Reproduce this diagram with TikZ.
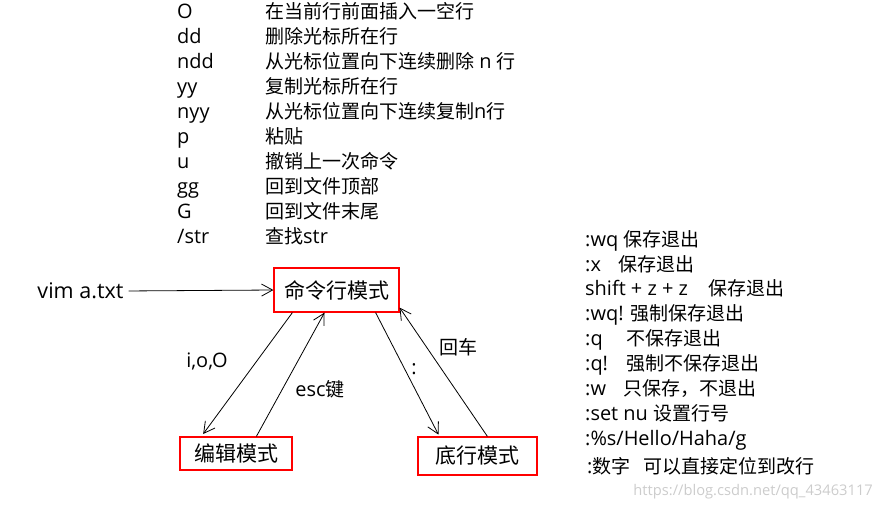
\documentclass[tikz,border=0pt]{standalone}
\usepackage{fontspec}
\setmainfont{Open Sans}[Scale=1.05]
\newfontfamily\cjk{Noto Sans CJK SC}
\usetikzlibrary{arrows.meta}

\begin{document}
\begin{tikzpicture}[x=1pt, y=-1pt,
    mode/.style={rectangle, draw=red, line width=1.2pt, inner sep=0pt, font=\fontsize{21}{25}\selectfont\cjk},
    key/.style={anchor=west, inner sep=0pt, yshift=-3pt, text height=0.8em, text depth=0.2em, font=\fontsize{19}{23}\selectfont},
    lbl/.style={inner sep=0pt, font=\fontsize{19}{23}\selectfont},
    arrow/.style={->, >={Straight Barb[length=11pt,width=12pt]}, line width=0.8pt}
]
    \useasboundingbox (0,0) rectangle (881,509);

    % Normal mode commands (top list)
    \node[key] (k1) at (177,12) {O};
    \node[key] (d1) at (265,12) {\cjk 在当前行前面插入一空行};
    \node[key] (k2) at (177,37) {dd};
    \node[key] (d2) at (265,37) {\cjk 删除光标所在行};
    \node[key] (k3) at (177,62) {ndd};
    \node[key] (d3) at (265,62) {{\cjk 从光标位置向下连续删除} n {\cjk 行}};
    \node[key] (k4) at (177,87) {yy};
    \node[key] (d4) at (265,87) {\cjk 复制光标所在行};
    \node[key] (k5) at (177,112) {nyy};
    \node[key] (d5) at (265,112) {{\cjk 从光标位置向下连续复制}n{\cjk 行}};
    \node[key] (k6) at (177,137) {p};
    \node[key] (d6) at (265,137) {\cjk 粘贴};
    \node[key] (k7) at (177,162) {u};
    \node[key] (d7) at (265,162) {\cjk 撤销上一次命令};
    \node[key] (k8) at (177,187) {gg};
    \node[key] (d8) at (265,187) {\cjk 回到文件顶部};
    \node[key] (k9) at (177,212) {G};
    \node[key] (d9) at (265,212) {\cjk 回到文件末尾};
    \node[key] (k10) at (177,237) {/str};
    \node[key] (d10) at (265,237) {{\cjk 查找}str};

    % Last line mode commands (right list)
    \node[key] (e1) at (585,240) {:wq};
    \node[key] (f1) at (623,240) {\cjk 保存退出};
    \node[key] (e2) at (585,265) {:x};
    \node[key] (f2) at (618,265) {\cjk 保存退出};
    \node[key] (e3) at (585,289) {shift + z + z};
    \node[key] (f3) at (708,289) {\cjk 保存退出};
    \node[key] (e4) at (585,314) {:wq!};
    \node[key] (f4) at (630,314) {\cjk 强制保存退出};
    \node[key] (e5) at (585,339) {:q};
    \node[key] (f5) at (626,339) {\cjk 不保存退出};
    \node[key] (e6) at (585,364) {:q!};
    \node[key] (f6) at (626,364) {\cjk 强制不保存退出};
    \node[key] (e7) at (585,389) {:w};
    \node[key] (f7) at (623,389) {\cjk 只保存，不退出};
    \node[key] (e8) at (585,414) {:set nu};
    \node[key] (f8) at (653,414) {\cjk 设置行号};
    \node[key] (e9) at (585,439) {:\%s/Hello/Haha/g};
    \node[key] (e10) at (587,467) {:{\cjk 数字}};
    \node[key] (f10) at (643,467) {\cjk 可以直接定位到改行};

    % Modes
    \node[mode, minimum width=125pt, minimum height=44pt] (cmd) at (336.5,290) {命令行模式};
    \node[mode, minimum width=112pt, minimum height=33pt] (edit) at (236,453.5) {编辑模式};
    \node[mode, minimum width=119pt, minimum height=38pt] (bot) at (477.5,456) {底行模式};

    % Start
    \node[lbl, font=\fontsize{20.5}{24}\selectfont] (vim) at (80.5,291) {vim a.txt};
    \draw[arrow, shorten <=5pt] (vim.east) -- (cmd.west);

    % Switching between modes
    \draw[arrow, shorten >=3pt] ([xshift=19]cmd.south west) -- ([xshift=22]edit.north west);
    \draw[arrow] ([xshift=77]edit.north west) -- ([xshift=-12]cmd.south);
    \draw[arrow, shorten >=2pt] ([xshift=-24]cmd.south east) -- ([xshift=22]bot.north west);
    \draw[arrow] ([xshift=70]bot.north west) -- ([yshift=5]cmd.south east);

    % Labels
    \node[lbl] (lio) at (207,361) {i,o,O};
    \node[lbl] (lesc) at (320,389) {esc{\cjk 键}};
    \node[lbl] (lcol) at (414,369) {:};
    \node[lbl, font=\fontsize{19}{23}\selectfont\cjk] (lret) at (458,347) {回车};

    % Watermark
    \node[lbl, anchor=east, font=\fontsize{14}{17}\selectfont, text=black!20] (wm) at (873,492) {https://blog.csdn.net/qq\_43463117};

\end{tikzpicture}
\end{document}
